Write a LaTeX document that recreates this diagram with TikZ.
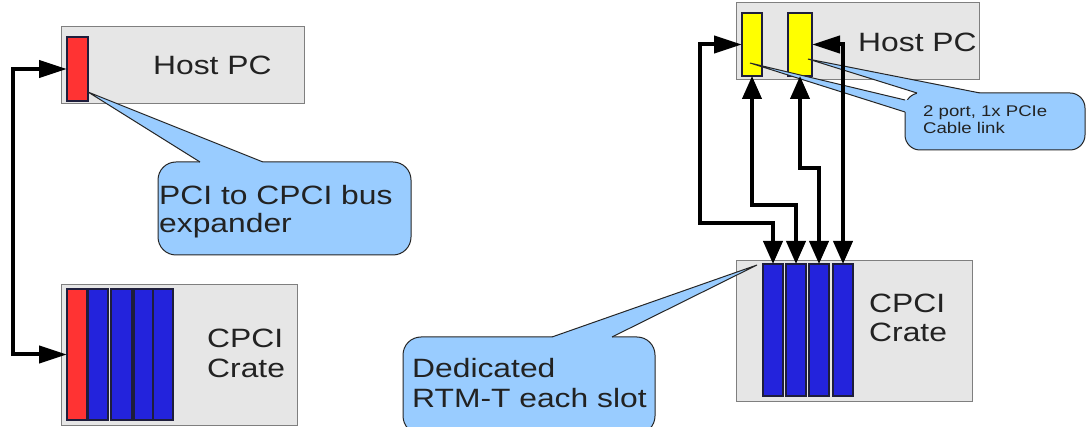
\documentclass[tikz,border=0pt]{standalone}
\usepackage{fontspec}
\setmainfont{Liberation Sans}[FakeStretch=1.2]
\usetikzlibrary{arrows.meta}
\definecolor{boxfill}{HTML}{E6E6E6}
\definecolor{boxline}{HTML}{7F7F7F}
\definecolor{redcard}{HTML}{FF3333}
\definecolor{bluecard}{HTML}{2323DC}
\definecolor{yelcard}{HTML}{FFFF00}
\definecolor{cardline}{HTML}{1E1E3C}
\definecolor{callfill}{HTML}{99CCFF}
\definecolor{callline}{HTML}{262626}
\definecolor{textcol}{HTML}{222222}
\tikzset{
  pcbox/.style={draw=boxline, fill=boxfill, line width=1pt, inner sep=0pt, outer sep=0pt, anchor=north west},
  card/.style={draw=cardline, line width=1.3pt, inner sep=0pt, outer sep=0pt, anchor=north west},
  bubble/.style={draw=callline, fill=callfill, line width=1pt, rounded corners=18pt, inner sep=0pt, outer sep=0pt, anchor=north west},
  tailfill/.style={fill=callfill},
  tailline/.style={draw=callline, line width=1pt, line join=miter},
  bigtxt/.style={inner sep=0pt, anchor=base west, text=textcol, font=\fontsize{26.5}{30}\selectfont},
  smalltxt/.style={inner sep=0pt, anchor=base west, text=textcol, font=\fontsize{15.5}{18}\selectfont},
  conn/.style={line width=4pt, line join=miter, draw=black},
  hh/.style={arrows={Triangle[length=28pt,width=17pt]}-{Triangle[length=28pt,width=17pt]}},
  hv/.style={arrows={Triangle[length=28pt,width=17pt]}-{Triangle[length=23pt,width=19pt]}},
  vv/.style={arrows={Triangle[length=23pt,width=19pt]}-{Triangle[length=23pt,width=19pt]}},
}
\begin{document}
\begin{tikzpicture}[x=1pt,y=-1pt]
\useasboundingbox (0,0) rectangle (1087,427);
\clip (0,0) rectangle (1087,427);
% ---------- left side ----------
\node[pcbox, minimum width=243pt, minimum height=77pt] (hostL) at (61,27) {};
\node[card, fill=redcard, minimum width=21pt, minimum height=64pt] (redH) at (67,37) {};
\node[bigtxt] (hostLt) at (153,75) {Host PC};

\node[pcbox, minimum width=236pt, minimum height=140pt] (crateL) at (61,285) {};
\node[card, fill=redcard, minimum width=20pt, minimum height=131pt] (redC) at (67,289) {};
\node[card, fill=bluecard, minimum width=20pt, minimum height=131pt] (bL1) at (88,289) {};
\node[card, fill=bluecard, minimum width=21pt, minimum height=131pt] (bL2) at (111,289) {};
\node[card, fill=bluecard, minimum width=19pt, minimum height=131pt] (bL3) at (134,289) {};
\node[card, fill=bluecard, minimum width=20pt, minimum height=131pt] (bL4) at (153,289) {};
\node[bigtxt] (crateLt1) at (207,348) {CPCI};
\node[bigtxt] (crateLt2) at (207,378) {Crate};

% left callout
\node[bubble, minimum width=253pt, minimum height=93pt] (bubL) at (158,162) {};
\coordinate (tipL) at (88,92);
\coordinate (bL1a) at (200,162);
\coordinate (bL1b) at (263,162);
\fill[tailfill] (tipL) -- (bL1a) -- (200,166) -- (263,166) -- (bL1b) -- cycle;
\draw[tailline] (bL1a) -- (tipL) -- (bL1b);
\node[bigtxt] (bubLt1) at (159,205) {PCI to CPCI bus};
\node[bigtxt] (bubLt2) at (159,233) {expander};

% left connector
\coordinate (jL) at (13,0);
\draw[conn, hh] (redH.west) -- (redH.west -| jL) -- (redC.west -| jL) -- (redC.west);

% ---------- right side ----------
\node[pcbox, minimum width=243pt, minimum height=77pt] (hostR) at (736,3) {};
\node[card, fill=yelcard, minimum width=20pt, minimum height=63pt] (y1) at (742,13) {};
\node[card, fill=yelcard, minimum width=24pt, minimum height=63pt] (y2) at (788,13) {};
\node[bigtxt] (hostRt) at (858,52) {Host PC};

\node[pcbox, minimum width=236pt, minimum height=141pt] (crateR) at (736,261) {};
\node[card, fill=bluecard, minimum width=20pt, minimum height=132pt] (s1) at (763,264) {};
\node[card, fill=bluecard, minimum width=20pt, minimum height=132pt] (s2) at (786,264) {};
\node[card, fill=bluecard, minimum width=20pt, minimum height=132pt] (s3) at (809,264) {};
\node[card, fill=bluecard, minimum width=20pt, minimum height=132pt] (s4) at (833,264) {};
\node[bigtxt] (crateRt1) at (869,313) {CPCI};
\node[bigtxt] (crateRt2) at (869,342) {Crate};

% 2 port callout
\node[bubble, rounded corners=15pt, minimum width=180pt, minimum height=57pt] (bubP) at (905,93) {};
\coordinate (tipP1) at (750,63);
\coordinate (tipP2) at (808,59);
\coordinate (bP1a) at (905,100);
\coordinate (bP1b) at (905,112);
\coordinate (bP2a) at (917,93);
\coordinate (bP2b) at (980,93);
\fill[tailfill] (tipP1) -- (bP1a) -- (909,100) -- (909,112) -- (bP1b) -- cycle;
\fill[tailfill] (tipP2) -- (bP2a) -- (917,97) -- (980,97) -- (bP2b) -- cycle;
\draw[tailline] (bP1a) -- (tipP1) -- (bP1b);
\draw[tailline] (bP2a) -- (tipP2) -- (bP2b);
\node[smalltxt] (bubPt1) at (923,117) {2 port, 1x PCIe};
\node[smalltxt] (bubPt2) at (923,134) {Cable link};

% Dedicated callout
\node[bubble, minimum width=252pt, minimum height=97pt] (bubD) at (403,337) {};
\coordinate (tipD) at (757,265);
\coordinate (bDa) at (552,337);
\coordinate (bDb) at (612,337);
\fill[tailfill] (tipD) -- (bDa) -- (552,341) -- (612,341) -- (bDb) -- cycle;
\draw[tailline] (bDa) -- (tipD) -- (bDb);
\node[bigtxt] (bubDt1) at (412,378) {Dedicated};
\node[bigtxt] (bubDt2) at (412,407) {RTM-T each slot};

% right connectors
\coordinate (jA) at (700,223);
\coordinate (jB) at (796,205);
\coordinate (jC) at (819,168);
\draw[conn, hv] (y1.west) -| (jA) -| (s1.north);
\draw[conn, vv] (y1.south) |- (jB) -- (s2.north);
\draw[conn, vv] (y2.south) |- (jC) -- (s3.north);
\draw[conn, hv] (y2.east) -| (s4.north);
\end{tikzpicture}
\end{document}
